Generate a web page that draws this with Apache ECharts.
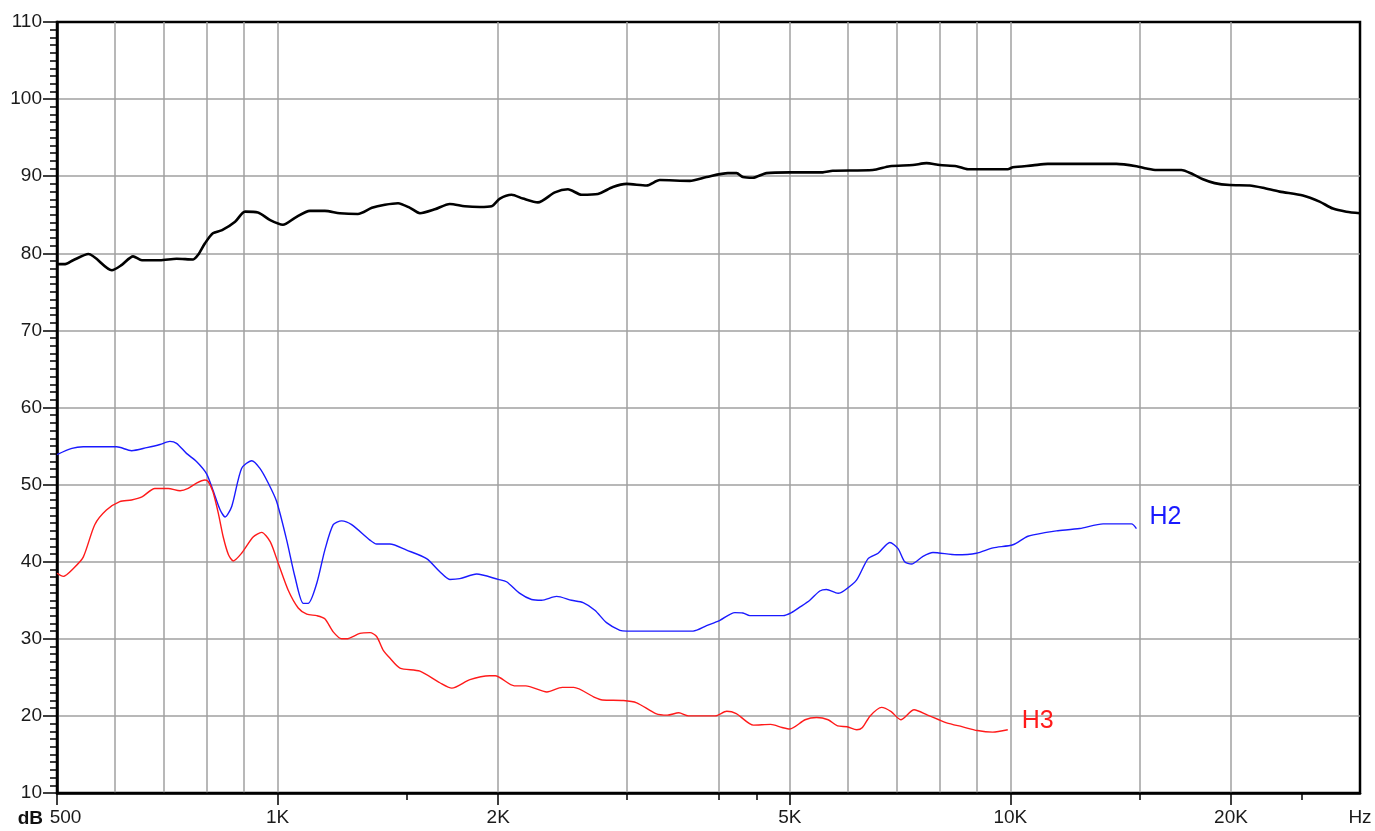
<!DOCTYPE html>
<html>
<head>
<meta charset="utf-8">
<script src="https://cdn.jsdelivr.net/npm/echarts@6/dist/echarts.min.js"></script>
<style>
html,body{margin:0;padding:0;background:#fff;}
#chart{width:1375px;height:831px;}
</style>
</head>
<body>
<div id="chart"></div>
<script>
// Main response (black)
const mainFreq = [500,513,526,552,594,613,635,653,691,728,767,779,796,816,840,875,903,940,977,1017,1056,1107,1160,1216,1287,1345,1401,1460,1516,1564,1639,1718,1801,1888,1959,2011,2086,2162,2266,2390,2490,2599,2736,2868,2994,3188,3323,3652,3850,4116,4230,4315,4452,4647,5000,5546,5722,6489,6846,7359,7684,8010,8442,8753,9917,10077,10729,11246,13955,14860,15335,15825,17111,17744,18314,19000,19922,21212,22115,23305,25074,26420,27553,28740,30000];
const mainDb   = [78.6,78.6,79.1,79.9,77.8,78.5,79.6,79.1,79.1,79.3,79.2,79.8,81.3,82.6,83.0,84.1,85.4,85.3,84.3,83.7,84.6,85.5,85.5,85.2,85.1,85.9,86.3,86.5,85.9,85.2,85.7,86.4,86.1,86.0,86.1,87.1,87.6,87.1,86.6,87.9,88.3,87.6,87.7,88.6,89.0,88.8,89.5,89.4,89.9,90.4,90.4,89.9,89.8,90.4,90.5,90.5,90.7,90.8,91.3,91.45,91.7,91.45,91.3,90.9,90.9,91.15,91.4,91.6,91.6,91.3,91.0,90.8,90.8,90.25,89.6,89.1,88.85,88.8,88.5,88.0,87.5,86.7,85.8,85.4,85.2];

// H2 (blue)
const h2Freq = [500,524,543,603,632,663,691,713,728,751,775,800,816,835,848,866,893,922,946,971,997,1029,1056,1084,1101,1131,1160,1191,1223,1262,1337,1365,1423,1500,1597,1665,1718,1773,1869,2000,2053,2141,2221,2292,2403,2518,2612,2710,2811,2932,2994,3690,3850,4014,4207,4315,4410,4896,5027,5159,5325,5494,5611,5819,5942,6166,6395,6599,6846,7026,7174,7328,7599,7841,8442,8988,9473,10082,10568,11197,11556,12435,13382,14630,14860];
const h2Db   = [53.9,54.7,54.9,54.9,54.4,54.8,55.2,55.6,55.35,54.05,53.0,51.4,49.3,46.7,45.8,47.2,52.1,53.1,52.1,50.2,47.8,42.8,38.05,34.6,34.6,37.2,41.5,44.8,45.3,44.8,42.8,42.3,42.3,41.5,40.4,38.7,37.7,37.8,38.4,37.7,37.4,35.9,35.1,35.0,35.5,35.0,34.7,33.7,32.1,31.1,31.0,31.0,31.7,32.4,33.4,33.35,33.0,33.0,33.4,34.1,35.0,36.2,36.4,35.9,36.3,37.6,40.4,41.1,42.5,41.7,40.0,39.7,40.7,41.2,40.9,41.1,41.8,42.2,43.3,43.8,44.0,44.3,44.9,44.9,44.3];

// H3 (red)
const h3Freq = [500,510,526,543,563,584,609,632,653,680,709,736,755,775,796,804,816,830,843,857,870,893,926,951,977,1002,1034,1067,1096,1131,1160,1191,1223,1242,1295,1337,1365,1394,1423,1469,1564,1665,1729,1830,1948,1981,2104,2181,2331,2446,2536,2708,2775,2964,3091,3282,3403,3528,3636,3956,4101,4226,4461,4708,4880,5000,5246,5440,5640,5810,5988,6171,6283,6436,6671,6876,7086,7390,7709,7988,8184,8588,9016,9459,9919];
const h3Db   = [38.5,38.1,39.1,40.6,44.8,46.7,47.8,48.0,48.4,49.5,49.5,49.2,49.5,50.2,50.6,50.4,49.1,46.3,43.2,40.9,40.1,41.1,43.2,43.8,42.6,39.8,36.3,34.0,33.2,33.0,32.6,30.9,30.0,30.0,30.7,30.8,30.3,28.5,27.5,26.2,25.8,24.3,23.6,24.7,25.2,25.2,23.9,23.9,23.1,23.7,23.7,22.4,22.06,22.0,21.7,20.3,20.1,20.4,20.0,20.0,20.6,20.3,18.8,18.9,18.5,18.3,19.5,19.8,19.5,18.7,18.6,18.2,18.5,20.0,21.1,20.55,19.5,20.8,20.1,19.5,19.1,18.6,18.1,17.9,18.2];

// Axis annotations
const xLabelValues = [500,1000,2000,5000,10000,20000,30000];
const xLabelTexts  = ['500','1K','2K','5K','10K','20K','Hz'];
const xGridValues  = [600,700,800,900,1000,2000,3000,4000,5000,6000,7000,8000,9000,10000,15000,20000];
const xMajorTicks  = [500,1000,2000,5000,10000,20000];
const xMinorTicks  = [1500,3000,4000,4500,15000,25000];
const seriesNames  = ['Response','H2','H3'];

const zip = (a,b) => a.map((v,i)=>[v,b[i]]);
const FONT = "'Liberation Sans', Arial, sans-serif";
const labelMap = {};
xLabelValues.forEach((v,i)=>{ labelMap[v] = xLabelTexts[i]; });

const chart = echarts.init(document.getElementById('chart'));
chart.setOption({
  animation: false,
  backgroundColor: '#ffffff',
  grid: {
    left: 57, right: 15, top: 22, bottom: 38,
    show: true, borderColor: '#000', borderWidth: 2.5, backgroundColor: 'transparent',
    containLabel: false, outerBoundsMode: 'none'
  },
  xAxis: [
    { // labels + major ticks
      type: 'log', logBase: 10, min: 500, max: 30000, position: 'bottom',
      axisLine: { show: true, lineStyle: { color: '#000', width: 2.5 } },
      axisTick: { show: true, customValues: xMajorTicks, length: 12, lineStyle: { color: '#000', width: 1.5 } },
      axisLabel: {
        show: true, customValues: xLabelValues, margin: 15,
        fontSize: 19, color: '#1a1a1a', fontFamily: FONT,
        formatter: function (v) {
          let best = null, bd = Infinity;
          for (const k in labelMap) { const d = Math.abs(Math.log(k) - Math.log(v)); if (d < bd) { bd = d; best = k; } }
          const t = labelMap[best];
          if (t === '500') return '{l|500}';
          return t;
        },
        rich: { l: { fontSize: 19, color: '#1a1a1a', fontFamily: FONT, padding: [0,0,0,17] } }
      },
      splitLine: { show: false }
    },
    { // vertical gridlines
      type: 'log', logBase: 10, min: 500, max: 30000, position: 'bottom',
      axisLine: { show: false },
      axisTick: { show: false, customValues: xGridValues },
      axisLabel: { show: false },
      splitLine: { show: true, lineStyle: { color: '#a0a0a0', width: 1.5 } }
    },
    { // minor ticks
      type: 'log', logBase: 10, min: 500, max: 30000, position: 'bottom',
      axisLine: { show: false },
      axisTick: { show: true, customValues: xMinorTicks, length: 7, lineStyle: { color: '#000', width: 1.5 } },
      axisLabel: { show: false },
      splitLine: { show: false }
    }
  ],
  yAxis: {
    type: 'value', min: 10, max: 110, interval: 10,
    axisLine: { show: true, lineStyle: { color: '#000', width: 2.5 } },
    axisTick: { show: true, length: 14, lineStyle: { color: '#000', width: 1.5 } },
    minorTick: { show: true, splitNumber: 10, length: 7, lineStyle: { color: '#000', width: 1.5 } },
    axisLabel: { margin: 15, fontSize: 19, color: '#1a1a1a', fontFamily: FONT },
    splitLine: { show: true, showMinLine: false, showMaxLine: false, lineStyle: { color: '#a0a0a0', width: 1.5 } }
  },
  graphic: [
    { type: 'text', style: { text: 'dB', x: 43, y: 819, align: 'right', verticalAlign: 'middle',
      font: 'bold 19px ' + FONT, fill: '#111' } }
  ],
  series: [
    { name: seriesNames[0], type: 'line', xAxisIndex: 0, data: zip(mainFreq, mainDb),
      showSymbol: false, smooth: 0.25, lineStyle: { color: '#000', width: 2.6 }, z: 5 },
    { name: seriesNames[1], type: 'line', xAxisIndex: 0, data: zip(h2Freq, h2Db),
      showSymbol: false, smooth: 0.25, lineStyle: { color: '#1a1aff', width: 1.4 }, z: 4,
      endLabel: { show: true, formatter: 'H2', color: '#1a1aff', fontSize: 25, fontFamily: FONT, offset: [5, -11] } },
    { name: seriesNames[2], type: 'line', xAxisIndex: 0, data: zip(h3Freq, h3Db),
      showSymbol: false, smooth: 0.25, lineStyle: { color: '#ff1a1a', width: 1.4 }, z: 4,
      endLabel: { show: true, formatter: 'H3', color: '#ff1a1a', fontSize: 25, fontFamily: FONT, offset: [6, -9] } }
  ]
});
</script>
</body>
</html>
